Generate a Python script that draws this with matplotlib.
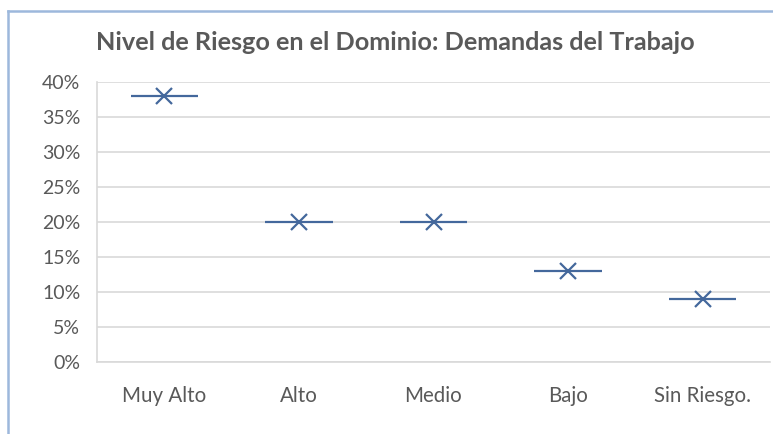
import matplotlib
matplotlib.use("Agg")
import matplotlib.pyplot as plt
from matplotlib.lines import Line2D
import numpy as np

categories = ["Muy Alto", "Alto", "Medio", "Bajo", "Sin Riesgo."]
values = [0.38, 0.20, 0.20, 0.13, 0.09]
yticks = [0, 0.05, 0.10, 0.15, 0.20, 0.25, 0.30, 0.35, 0.40]
ytick_labels = ["0%", "5%", "10%", "15%", "20%", "25%", "30%", "35%", "40%"]
title = "Nivel de Riesgo en el Dominio: Demandas del Trabajo"

plt.rcParams['font.family'] = ['Lato', 'DejaVu Sans']

W, H = 773, 434
fig = plt.figure(figsize=(W / 100, H / 100), dpi=100)
ax = fig.add_axes([97 / W, (H - 362) / H, (770 - 97) / W, (362 - 82) / H])

x = np.arange(len(categories))
color = "#44689C"
grid_c = "#D9D9D9"
text_c = "#595959"

ax.hlines(values, x - 0.25, x + 0.25, colors=color, linewidth=1.6, zorder=3)
ax.plot(x, values, linestyle="none", marker="x", markersize=11, markeredgewidth=1.6,
        color=color, zorder=4)

ax.set_xlim(-0.5, len(categories) - 0.5)
ax.set_ylim(0, 0.40)
ax.set_yticks(yticks)
ax.set_yticklabels(ytick_labels)
ax.set_xticks(x)
ax.set_xticklabels(categories)
ax.tick_params(axis="y", length=0, labelsize=14, colors=text_c, pad=12)
ax.tick_params(axis="x", length=0, labelsize=14.8, colors=text_c, pad=17)
ax.grid(axis="y", color=grid_c, linewidth=1.2)
ax.set_axisbelow(True)
for s in ["top", "right"]:
    ax.spines[s].set_visible(False)
for s in ["left", "bottom"]:
    ax.spines[s].set_color(grid_c)
    ax.spines[s].set_linewidth(1.2)

fig.text(0.511, (H - 42) / H, title, ha="center", va="center", fontsize=18.2,
         fontweight="bold", color=text_c)

# chart frame (top and left)
fig.add_artist(Line2D([8 / W, 1], [(H - 11) / H, (H - 11) / H], transform=fig.transFigure,
                      color="#9DB8DC", linewidth=1.8))
fig.add_artist(Line2D([8 / W, 8 / W], [0, (H - 11) / H], transform=fig.transFigure,
                      color="#9DB8DC", linewidth=1.8))

fig.savefig("out.png", dpi=100)
